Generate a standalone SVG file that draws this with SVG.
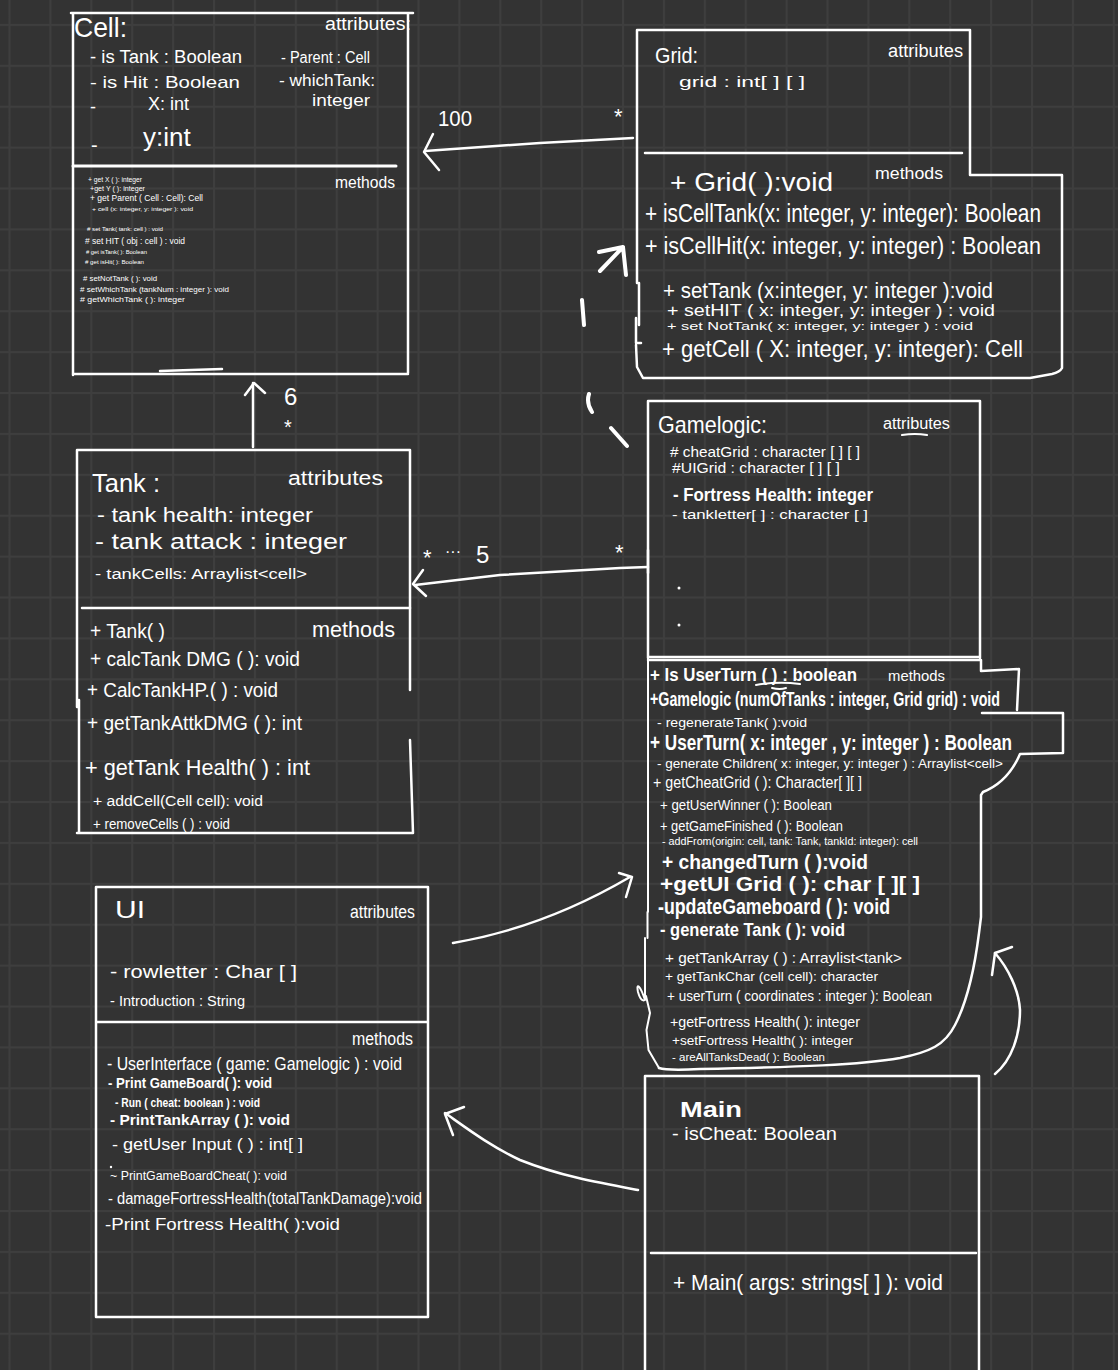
<svg xmlns="http://www.w3.org/2000/svg" width="1118" height="1370" viewBox="0 0 1118 1370">
<defs>
<pattern id="grid" patternUnits="userSpaceOnUse" x="8.5" y="23.9" width="40.9" height="40.9">
<rect x="0" y="0" width="40.9" height="2" fill="#3e3e3e"/>
<rect x="0" y="0" width="2" height="40.9" fill="#3e3e3e"/>
</pattern>
<style>
.t{fill:#ffffff;font-family:"Liberation Sans",Arial,sans-serif;}
.b{fill:none;stroke:#ffffff;stroke-width:2.5;stroke-linecap:round;stroke-linejoin:round;}
.c{fill:none;stroke:#ffffff;stroke-width:2.5;stroke-linecap:round;stroke-linejoin:round;}
.th{fill:none;stroke:#ffffff;stroke-width:4;stroke-linecap:round;stroke-linejoin:round;}
</style>
</defs>
<rect width="1118" height="1370" fill="#333333"/>
<rect width="1118" height="1370" fill="url(#grid)"/>

<g id="cell">
<path class="b" d="M71,13 H413 M73,13 V375 M408,13 V373 M73,374 H408 M160,371 L222,369"/>
<path class="b" style="stroke-width:3" d="M73,166 H396"/>
<text class="t" x="74" y="37" font-size="28" textLength="53" lengthAdjust="spacingAndGlyphs">Cell:</text>
<text class="t" x="325" y="30" font-size="18" textLength="86" lengthAdjust="spacingAndGlyphs">attributes:</text>
<text class="t" x="90" y="63" font-size="18" textLength="152" lengthAdjust="spacingAndGlyphs">- is Tank : Boolean</text>
<text class="t" x="90" y="88" font-size="17" textLength="150" lengthAdjust="spacingAndGlyphs">-  is Hit : Boolean</text>
<text class="t" font-size="18"><tspan x="90" y="113">-</tspan><tspan x="148" y="110">X: int</tspan></text>
<text class="t" font-size="26"><tspan x="91" y="152" font-size="20">-</tspan><tspan x="143" y="146">y:int</tspan></text>
<text class="t" x="281" y="63" font-size="16" textLength="89" lengthAdjust="spacingAndGlyphs">- Parent : Cell</text>
<text class="t" x="279" y="86" font-size="16" textLength="96" lengthAdjust="spacingAndGlyphs">- whichTank:</text>
<text class="t" x="312" y="106" font-size="16" textLength="58" lengthAdjust="spacingAndGlyphs">integer</text>
<text class="t" x="335" y="188" font-size="17" textLength="60" lengthAdjust="spacingAndGlyphs">methods</text>
<text class="t" x="88" y="182" font-size="7" textLength="54" lengthAdjust="spacingAndGlyphs">+ get X ( ): integer</text>
<text class="t" x="90" y="191" font-size="7" textLength="55" lengthAdjust="spacingAndGlyphs">+get Y ( ): integer</text>
<text class="t" x="90" y="201" font-size="9" textLength="113" lengthAdjust="spacingAndGlyphs">+ get Parent ( Cell : Cell): Cell</text>
<text class="t" x="92" y="211" font-size="6" textLength="101" lengthAdjust="spacingAndGlyphs">+ cell (x: integer, y: integer ): void</text>
<text class="t" x="87" y="231" font-size="6" textLength="76" lengthAdjust="spacingAndGlyphs"># set Tank( tank: cell ) : void</text>
<text class="t" x="85" y="244" font-size="9" textLength="100" lengthAdjust="spacingAndGlyphs"># set HIT ( obj : cell ) : void</text>
<text class="t" x="86" y="254" font-size="6" textLength="61" lengthAdjust="spacingAndGlyphs"># get isTank( ): Boolean</text>
<text class="t" x="85" y="264" font-size="6" textLength="59" lengthAdjust="spacingAndGlyphs"># get isHit( ): Boolean</text>
<text class="t" x="83" y="281" font-size="7" textLength="74" lengthAdjust="spacingAndGlyphs"># setNotTank ( ): void</text>
<text class="t" x="80" y="292" font-size="8" textLength="149" lengthAdjust="spacingAndGlyphs"># setWhichTank (tankNum : integer ): void</text>
<text class="t" x="80" y="302" font-size="8" textLength="105" lengthAdjust="spacingAndGlyphs"># getWhichTank ( ): integer</text>
</g>

<g id="grid-class">
<path class="b" d="M637,30 H970 V175 H1062 V368 Q1060,372 1052,374 L1030,378 L643,378 L637,367 L636,345 M636,318 V343 H641 M639,283 V325 M637,30 V283"/>
<path class="b" d="M645,153 H962"/>
<text class="t" x="655" y="63" font-size="22" textLength="43" lengthAdjust="spacingAndGlyphs">Grid:</text>
<text class="t" x="888" y="57" font-size="18" textLength="75" lengthAdjust="spacingAndGlyphs">attributes</text>
<text class="t" x="679" y="87" font-size="15" textLength="126" lengthAdjust="spacingAndGlyphs">grid : int[ ] [ ]</text>
<text class="t" x="670" y="191" font-size="26" textLength="163" lengthAdjust="spacingAndGlyphs">+ Grid( ):void</text>
<text class="t" x="875" y="179" font-size="16" textLength="68" lengthAdjust="spacingAndGlyphs">methods</text>
<text class="t" x="645" y="222" font-size="25" textLength="396" lengthAdjust="spacingAndGlyphs">+ isCellTank(x: integer, y: integer): Boolean</text>
<text class="t" x="645" y="254" font-size="23" textLength="396" lengthAdjust="spacingAndGlyphs">+ isCellHit(x: integer, y: integer) : Boolean</text>
<text class="t" x="663" y="298" font-size="22" textLength="330" lengthAdjust="spacingAndGlyphs">+ setTank (x:integer, y: integer ):void</text>
<text class="t" x="667" y="316" font-size="17" textLength="328" lengthAdjust="spacingAndGlyphs">+ setHIT ( x: integer, y: integer ) : void</text>
<text class="t" x="667" y="330" font-size="10" textLength="306" lengthAdjust="spacingAndGlyphs">+ set NotTank( x: integer, y: integer ) : void</text>
<text class="t" x="662" y="357" font-size="24" textLength="361" lengthAdjust="spacingAndGlyphs">+ getCell ( X: integer, y: integer): Cell</text>
</g>

<g id="gamelogic">
<path class="b" d="M648,401 H980 V658 M648,401 V658 M648,657 H980"/>
<path class="b" d="M648,660 H981 V671 L1019,669 L1017,710 M982,713 H1063 V753 L1020,754 Q1008,782 983,792 L981,795 V917 L979,933 C975,965 968,1000 955,1025 C945,1045 930,1052 900,1058 C860,1065 800,1067 700,1069 C680,1070 665,1070 659,1068"/>
<path class="b" style="stroke-width:2" d="M648,660 V912 M647.5,912 V938 M645,938 V1000 C640,985 636,982 638,992 C641,1003 646,1002 646,996 L650,1013 L646.5,1030 L648.5,1050 L659,1068"/>
<text class="t" x="658" y="433" font-size="24" textLength="109" lengthAdjust="spacingAndGlyphs">Gamelogic:</text>
<text class="t" x="883" y="429" font-size="16" textLength="67" lengthAdjust="spacingAndGlyphs">attributes</text>
<path class="c" style="stroke-width:2" d="M902,435 Q915,433 927,435"/>
<text class="t" x="670" y="457" font-size="15" textLength="190" lengthAdjust="spacingAndGlyphs"># cheatGrid : character [ ] [ ]</text>
<text class="t" x="672" y="473" font-size="15" textLength="168" lengthAdjust="spacingAndGlyphs">#UIGrid : character [ ] [ ]</text>
<text class="t" x="673" y="501" font-size="19" font-weight="bold" textLength="200" lengthAdjust="spacingAndGlyphs">- Fortress Health: integer</text>
<text class="t" x="672" y="519" font-size="13" textLength="196" lengthAdjust="spacingAndGlyphs">- tankletter[ ] : character [ ]</text>
<circle cx="679" cy="588" r="1.5" fill="#fff"/>
<circle cx="679" cy="625" r="1.5" fill="#fff"/>
<text class="t" x="650" y="681" font-size="18" font-weight="bold" textLength="207" lengthAdjust="spacingAndGlyphs">+ Is UserTurn ( ) : boolean</text>
<path class="c" style="stroke-width:2" d="M756,685 Q778,681 800,684 M772,688 Q780,690 786,688"/>
<text class="t" x="888" y="681" font-size="15" textLength="57" lengthAdjust="spacingAndGlyphs">methods</text>
<text class="t" x="650" y="706" font-size="21" font-weight="bold" textLength="350" lengthAdjust="spacingAndGlyphs">+Gamelogic (numOfTanks : integer, Grid grid) : void</text>
<text class="t" x="657" y="727" font-size="12" textLength="150" lengthAdjust="spacingAndGlyphs">- regenerateTank( ):void</text>
<text class="t" x="650" y="750" font-size="22" font-weight="bold" textLength="362" lengthAdjust="spacingAndGlyphs">+ UserTurn( x: integer , y: integer ) : Boolean</text>
<text class="t" x="657" y="768" font-size="13" textLength="346" lengthAdjust="spacingAndGlyphs">- generate Children( x: integer, y: integer ) : Arraylist&lt;cell&gt;</text>
<text class="t" x="653" y="788" font-size="16" textLength="209" lengthAdjust="spacingAndGlyphs">+ getCheatGrid ( ): Character[ ][ ]</text>
<text class="t" x="660" y="810" font-size="14" textLength="172" lengthAdjust="spacingAndGlyphs">+ getUserWinner ( ): Boolean</text>
<text class="t" x="660" y="831" font-size="14" textLength="183" lengthAdjust="spacingAndGlyphs">+ getGameFinished ( ): Boolean</text>
<text class="t" x="662" y="845" font-size="11" textLength="256" lengthAdjust="spacingAndGlyphs">- addFrom(origin: cell, tank: Tank, tankId: integer): cell</text>
<text class="t" x="662" y="869" font-size="20" font-weight="bold" textLength="206" lengthAdjust="spacingAndGlyphs">+ changedTurn ( ):void</text>
<text class="t" x="660" y="891" font-size="20" font-weight="bold" textLength="260" lengthAdjust="spacingAndGlyphs">+getUI Grid ( ): char [ ][ ]</text>
<text class="t" x="658" y="914" font-size="22" font-weight="bold" textLength="232" lengthAdjust="spacingAndGlyphs">-updateGameboard ( ): void</text>
<text class="t" x="660" y="936" font-size="19" font-weight="bold" textLength="185" lengthAdjust="spacingAndGlyphs">- generate Tank ( ): void</text>
<text class="t" x="665" y="963" font-size="15" textLength="237" lengthAdjust="spacingAndGlyphs">+ getTankArray ( ) : Arraylist&lt;tank&gt;</text>
<text class="t" x="665" y="981" font-size="13" textLength="213" lengthAdjust="spacingAndGlyphs">+ getTankChar (cell cell): character</text>
<text class="t" x="667" y="1001" font-size="14" textLength="265" lengthAdjust="spacingAndGlyphs">+ userTurn ( coordinates : integer ): Boolean</text>
<text class="t" x="670" y="1027" font-size="14" textLength="190" lengthAdjust="spacingAndGlyphs">+getFortress Health( ): integer</text>
<text class="t" x="672" y="1045" font-size="13" textLength="181" lengthAdjust="spacingAndGlyphs">+setFortress Health( ): integer</text>
<text class="t" x="672" y="1061" font-size="11" textLength="153" lengthAdjust="spacingAndGlyphs">- areAllTanksDead( ): Boolean</text>
</g>

<g id="tank">
<path class="b" d="M77,450 H410 V690 M410,740 L413,833 H77 M77,450 V707 M79,700 V833"/>
<path class="b" d="M82,608 H410"/>
<text class="t" x="92" y="492" font-size="26" textLength="68" lengthAdjust="spacingAndGlyphs">Tank :</text>
<text class="t" x="288" y="485" font-size="20" textLength="95" lengthAdjust="spacingAndGlyphs">attributes</text>
<text class="t" x="97" y="522" font-size="20" textLength="216" lengthAdjust="spacingAndGlyphs">- tank health: integer</text>
<text class="t" x="95" y="549" font-size="22" textLength="252" lengthAdjust="spacingAndGlyphs">- tank attack : integer</text>
<text class="t" x="95" y="579" font-size="14" textLength="212" lengthAdjust="spacingAndGlyphs">- tankCells: Arraylist&lt;cell&gt;</text>
<text class="t" x="90" y="638" font-size="20" textLength="75" lengthAdjust="spacingAndGlyphs">+ Tank( )</text>
<text class="t" x="312" y="637" font-size="22" textLength="83" lengthAdjust="spacingAndGlyphs">methods</text>
<text class="t" x="90" y="666" font-size="20" textLength="210" lengthAdjust="spacingAndGlyphs">+ calcTank DMG ( ): void</text>
<text class="t" x="87" y="697" font-size="20" textLength="191" lengthAdjust="spacingAndGlyphs">+ CalcTankHP.( ) : void</text>
<text class="t" x="87" y="730" font-size="20" textLength="215" lengthAdjust="spacingAndGlyphs">+ getTankAttkDMG ( ): int</text>
<text class="t" x="85" y="775" font-size="22" textLength="225" lengthAdjust="spacingAndGlyphs">+ getTank Health( ) : int</text>
<text class="t" x="93" y="806" font-size="14" textLength="170" lengthAdjust="spacingAndGlyphs">+ addCell(Cell cell): void</text>
<text class="t" x="93" y="829" font-size="14" textLength="137" lengthAdjust="spacingAndGlyphs">+ removeCells ( ) : void</text>
</g>

<g id="ui">
<path class="b" d="M96,887 H428 V1317 H96 Z"/>
<path class="b" d="M97,1022 H427"/>
<text class="t" x="115" y="918" font-size="24" textLength="30" lengthAdjust="spacingAndGlyphs">UI</text>
<text class="t" x="350" y="918" font-size="18" textLength="65" lengthAdjust="spacingAndGlyphs">attributes</text>
<text class="t" x="110" y="978" font-size="18" textLength="187" lengthAdjust="spacingAndGlyphs">- rowletter : Char [ ]</text>
<text class="t" x="110" y="1006" font-size="14" textLength="135" lengthAdjust="spacingAndGlyphs">- Introduction : String</text>
<text class="t" x="352" y="1045" font-size="18" textLength="61" lengthAdjust="spacingAndGlyphs">methods</text>
<text class="t" x="107" y="1070" font-size="19" textLength="295" lengthAdjust="spacingAndGlyphs">- UserInterface ( game: Gamelogic ) : void</text>
<text class="t" x="108" y="1088" font-size="14" font-weight="bold" textLength="164" lengthAdjust="spacingAndGlyphs">- Print GameBoard( ): void</text>
<text class="t" x="115" y="1107" font-size="13" font-weight="bold" textLength="145" lengthAdjust="spacingAndGlyphs">- Run ( cheat: boolean ) : void</text>
<text class="t" x="110" y="1125" font-size="15" font-weight="bold" textLength="180" lengthAdjust="spacingAndGlyphs">- PrintTankArray ( ): void</text>
<text class="t" x="112" y="1150" font-size="16" textLength="191" lengthAdjust="spacingAndGlyphs">- getUser  Input ( ) : int[ ]</text>
<circle cx="111" cy="1167" r="1.2" fill="#fff"/>
<text class="t" x="110" y="1180" font-size="13" textLength="177" lengthAdjust="spacingAndGlyphs">~ PrintGameBoardCheat( ): void</text>
<text class="t" x="108" y="1204" font-size="16" textLength="314" lengthAdjust="spacingAndGlyphs">- damageFortressHealth(totalTankDamage):void</text>
<text class="t" x="105" y="1230" font-size="17" textLength="235" lengthAdjust="spacingAndGlyphs">-Print Fortress Health( ):void</text>
</g>

<g id="main">
<path class="b" d="M645,1372 V1076 H979 V1372"/>
<path class="b" d="M651,1253 H976"/>
<text class="t" x="680" y="1117" font-size="22" font-weight="bold" textLength="62" lengthAdjust="spacingAndGlyphs">Main</text>
<text class="t" x="672" y="1140" font-size="18" textLength="165" lengthAdjust="spacingAndGlyphs">- isCheat: Boolean</text>
<text class="t" x="673" y="1290" font-size="22" textLength="270" lengthAdjust="spacingAndGlyphs">+ Main( args: strings[ ] ): void</text>
</g>

<g id="connectors">
<path class="c" d="M633,138 L540,143 L425,151"/>
<path class="c" d="M433,134 L424,152 L439,170"/>
<text class="t" x="438" y="126" font-size="22" textLength="34" lengthAdjust="spacingAndGlyphs">100</text>
<text class="t" x="614" y="124" font-size="22">*</text>
<path class="th" d="M627,446 L611,428 M592,412 Q586,403 589,394 M584,325 L582,300 M600,271 L623,247 M599,252 L623,247 L626,275"/>
<path class="c" d="M648,567 L620,568 L500,575 L415,585"/>
<path class="c" d="M648,550 V573"/>
<path class="c" d="M423,570 L413,584 L426,596"/>
<text class="t" x="615" y="560" font-size="22">*</text>
<text class="t" x="423" y="565" font-size="22">*</text>
<text class="t" x="445" y="557" font-size="16">···</text>
<text class="t" x="476" y="563" font-size="24">5</text>
<path class="c" d="M253,447 V383"/>
<path class="c" d="M245,395 L254,383 L265,393"/>
<text class="t" x="284" y="405" font-size="24">6</text>
<text class="t" x="284" y="434" font-size="20">*</text>
<path class="c" d="M453,943 C500,935 560,918 630,877"/>
<path class="c" d="M619,873 L632,877 L626,897"/>
<path class="c" d="M638,1190 C600,1183 560,1176 520,1160 C490,1146 465,1127 445,1113"/>
<path class="c" d="M464,1107 L445,1114 L453,1135"/>
<path class="c" d="M995,1074 C1012,1060 1020,1035 1020,1010 C1019,990 1008,968 995,953"/>
<path class="c" d="M992,975 L995,953 L1012,947"/>
</g>
</svg>
